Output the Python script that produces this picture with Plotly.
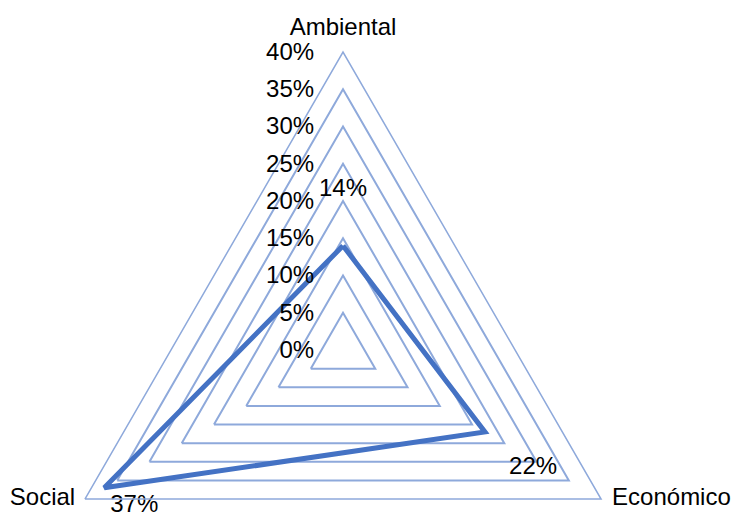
import plotly.graph_objects as go

categories = ["Ambiental", "Económico", "Social"]
values = [14, 22, 37]
tick_values = [0, 5, 10, 15, 20, 25, 30, 35, 40]
tick_labels = [f"{t}%" for t in tick_values]
value_labels = [f"{v}%" for v in values]

FONT = "Arial, 'Liberation Sans', sans-serif"
FS = 24
GRID = "#8EA9DB"
LINE = "#4472C4"

# styling for label placement (invisible marker sizes push text away from points)
label_positions = ["top center", "bottom right", "bottom right"]
label_offsets = [69, 37, 8]
cat_positions = ["top center", "middle right", "middle left"]
cat_offsets = [16, 16, 14]

fig = go.Figure()
fig.add_trace(go.Scatterpolar(
    r=values + values[:1],
    theta=categories + categories[:1],
    mode="lines",
    line=dict(color=LINE, width=5),
    hoverinfo="skip",
    showlegend=False,
))
fig.add_trace(go.Scatterpolar(
    r=values,
    theta=categories,
    mode="markers+text",
    marker=dict(size=label_offsets, opacity=0),
    text=value_labels,
    textposition=label_positions,
    textfont=dict(family=FONT, size=FS, color="black"),
    hoverinfo="skip",
    showlegend=False,
))
# category labels at the outer ring
fig.add_trace(go.Scatterpolar(
    r=[tick_values[-1]] * len(categories),
    theta=categories,
    mode="markers+text",
    marker=dict(size=cat_offsets, opacity=0),
    text=categories,
    textposition=cat_positions,
    textfont=dict(family=FONT, size=FS, color="black"),
    hoverinfo="skip",
    showlegend=False,
    cliponaxis=False,
))

fig.update_layout(
    width=731,
    height=660,
    margin=dict(l=0, r=45, t=52, b=12),
    paper_bgcolor="white",
    plot_bgcolor="white",
    font=dict(family=FONT, size=FS, color="black"),
    polar=dict(
        bgcolor="white",
        gridshape="linear",
        radialaxis=dict(
            range=[0, 40],
            tickvals=tick_values,
            ticktext=tick_labels,
            angle=90,
            tickangle=90,
            side="counterclockwise",
            showline=False,
            ticks="outside",
            ticklen=20,
            tickcolor="rgba(0,0,0,0)",
            gridcolor=GRID,
            gridwidth=1.5,
            tickfont=dict(family=FONT, size=FS, color="black"),
        ),
        angularaxis=dict(
            rotation=90,
            direction="clockwise",
            showgrid=False,
            showline=True,
            linecolor=GRID,
            linewidth=1.5,
            ticks="",
            showticklabels=False,
        ),
    ),
)

fig.write_html("out.html")
